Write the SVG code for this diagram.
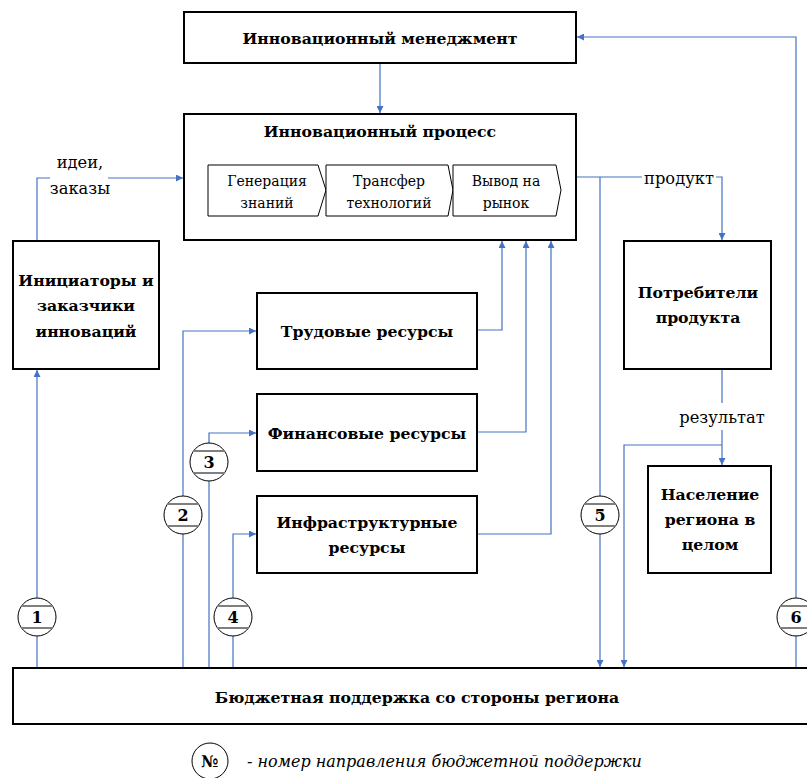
<svg xmlns="http://www.w3.org/2000/svg" width="807" height="778" viewBox="0 0 807 778">
  <style>
    text { font-family: "DejaVu Serif", serif; fill: #000; }
    .box { fill: #fff; stroke: #000; stroke-width: 2; }
    .step { fill: #fff; stroke: #000; stroke-width: 1; }
    .title { font-weight: bold; font-size: 15.7px; text-anchor: middle; }
    .plain { font-size: 14px; text-anchor: middle; }
    .label { font-size: 16.3px; text-anchor: middle; }
    .num { font-weight: bold; font-size: 16px; text-anchor: middle; }
    .legend { font-style: italic; font-size: 16px; }
    .conn { fill: none; stroke: #4472C4; stroke-width: 1.2; }
    .ring { fill: #fff; stroke: #000; stroke-width: 1; }
    .chord { stroke: #7f7f7f; stroke-width: 2; }
  </style>
  <defs>
    <marker id="arrow" viewBox="0 0 10 10" refX="10" refY="5" markerWidth="7" markerHeight="7" markerUnits="userSpaceOnUse" orient="auto">
      <path d="M0,0 L10,5 L0,10 z" fill="#4472C4"/>
    </marker>
    <!-- numbered badge: ring with two grey chords -->
    <g id="badge">
      <circle class="ring" cx="0" cy="0" r="19"/>
      <line class="chord" x1="-15.5" y1="-11" x2="15.5" y2="-11"/>
      <line class="chord" x1="-15.5" y1="11" x2="15.5" y2="11"/>
    </g>
  </defs>

  <!-- connectors -->
  <g id="connectors">
    <path class="conn" d="M380,63 V113" marker-end="url(#arrow)"/>
    <path class="conn" d="M37,241 V178 H50"/>
    <path class="conn" d="M108,178 H183" marker-end="url(#arrow)"/>
    <path class="conn" d="M576,177 H642"/>
    <path class="conn" d="M716,177 H722 V240" marker-end="url(#arrow)"/>
    <path class="conn" d="M600,177 V667" marker-end="url(#arrow)"/>
    <path class="conn" d="M722,369 V403"/>
    <path class="conn" d="M722,430 V465" marker-end="url(#arrow)"/>
    <path class="conn" d="M722,445 H624 V667" marker-end="url(#arrow)"/>
    <path class="conn" d="M796,668 V37 H577" marker-end="url(#arrow)"/>
    <path class="conn" d="M477,330 H502 V241" marker-end="url(#arrow)"/>
    <path class="conn" d="M477,432 H526 V241" marker-end="url(#arrow)"/>
    <path class="conn" d="M477,534 H551 V241" marker-end="url(#arrow)"/>
    <path class="conn" d="M37,668 V370" marker-end="url(#arrow)"/>
    <path class="conn" d="M183,668 V331 H256" marker-end="url(#arrow)"/>
    <path class="conn" d="M209,668 V433 H256" marker-end="url(#arrow)"/>
    <path class="conn" d="M233,668 V534 H256" marker-end="url(#arrow)"/>
  </g>

  <!-- edge labels -->
  <g id="edge-labels">
    <text class="label" x="80" y="168">идеи,</text>
    <text class="label" x="80" y="194">заказы</text>
    <text class="label" x="679" y="184">продукт</text>
    <text class="label" x="722" y="423">результат</text>
  </g>

  <g id="management">
    <rect class="box" x="184" y="12" width="392" height="51"/>
    <text class="title" x="380" y="44">Инновационный менеджмент</text>
  </g>

  <g id="process">
    <rect class="box" x="184" y="114" width="392" height="126"/>
    <text class="title" x="380" y="137">Инновационный процесс</text>
    <g id="step-generation">
      <path class="step" d="M208,165 H318 L326,190 L318,216 H208 Z"/>
      <text class="plain" x="267" y="186">Генерация</text>
      <text class="plain" x="267" y="208">знаний</text>
    </g>
    <g id="step-transfer">
      <path class="step" d="M326,165 H448 L453,190 L448,216 H326 Z"/>
      <text class="plain" x="389" y="186">Трансфер</text>
      <text class="plain" x="389" y="208">технологий</text>
    </g>
    <g id="step-market">
      <path class="step" d="M453,165 H556 L561,190 L556,216 H453 Z"/>
      <text class="plain" x="506" y="186">Вывод на</text>
      <text class="plain" x="506" y="208">рынок</text>
    </g>
  </g>

  <g id="initiators">
    <rect class="box" x="13" y="241" width="146" height="128"/>
    <text class="title" x="86" y="286">Инициаторы и</text>
    <text class="title" x="86" y="311">заказчики</text>
    <text class="title" x="86" y="337">инноваций</text>
  </g>

  <g id="labour">
    <rect class="box" x="257" y="293" width="220" height="76"/>
    <text class="title" x="367" y="337">Трудовые ресурсы</text>
  </g>

  <g id="finance">
    <rect class="box" x="257" y="394" width="220" height="77"/>
    <text class="title" x="367" y="439">Финансовые ресурсы</text>
  </g>

  <g id="infrastructure">
    <rect class="box" x="257" y="496" width="220" height="77"/>
    <text class="title" x="367" y="528">Инфраструктурные</text>
    <text class="title" x="367" y="553">ресурсы</text>
  </g>

  <g id="consumers">
    <rect class="box" x="624" y="241" width="147" height="128"/>
    <text class="title" x="698" y="298">Потребители</text>
    <text class="title" x="698" y="323">продукта</text>
  </g>

  <g id="population">
    <rect class="box" x="648" y="466" width="123" height="107"/>
    <text class="title" x="710" y="500">Население</text>
    <text class="title" x="710" y="525">региона в</text>
    <text class="title" x="710" y="550">целом</text>
  </g>

  <g id="budget">
    <rect class="box" x="13" y="668" width="800" height="56"/>
    <text class="title" x="417" y="703">Бюджетная поддержка со стороны региона</text>
  </g>

  <!-- numbered support directions -->
  <g id="badges">
    <use href="#badge" x="37" y="617"/>
    <text class="num" x="37" y="623">1</text>
    <use href="#badge" x="183" y="515"/>
    <text class="num" x="183" y="521">2</text>
    <use href="#badge" x="209" y="462"/>
    <text class="num" x="209" y="468">3</text>
    <use href="#badge" x="233" y="617"/>
    <text class="num" x="233" y="623">4</text>
    <use href="#badge" x="600" y="515"/>
    <text class="num" x="600" y="521">5</text>
    <use href="#badge" x="796" y="617"/>
    <text class="num" x="796" y="623">6</text>
  </g>

  <g id="legend">
    <circle class="ring" cx="210" cy="761" r="18"/>
    <text class="num" x="210" y="767" font-size="15">№</text>
    <text class="legend" x="247" y="767">- номер направления бюджетной поддержки</text>
  </g>
</svg>
